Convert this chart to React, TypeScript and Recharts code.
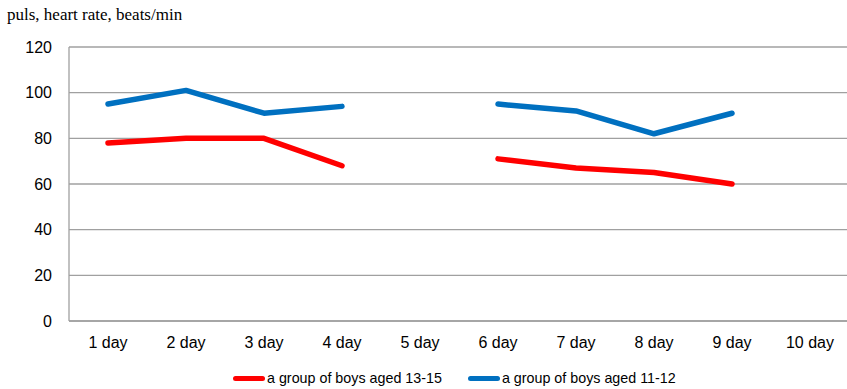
import { LineChart, Line, XAxis, YAxis, CartesianGrid } from "recharts";

const days = ["1 day", "2 day", "3 day", "4 day", "5 day", "6 day", "7 day", "8 day", "9 day", "10 day"];
const boys1315 = [78, 80, 80, 68, null, 71, 67, 65, 60, null];
const boys1112 = [95, 101, 91, 94, null, 95, 92, 82, 91, null];
const yTicks = [0, 20, 40, 60, 80, 100, 120];

const series = [
  { key: "older", name: "a group of boys aged 13-15", color: "#ff0000", values: boys1315 },
  { key: "younger", name: "a group of boys aged 11-12", color: "#0070c0", values: boys1112 },
];

const data = days.map((day, i) => {
  const row: Record<string, string | number | null> = { day };
  series.forEach((s) => (row[s.key] = s.values[i]));
  return row;
});

const axisFont = { fontSize: 16, fill: "#000", fontFamily: "'Liberation Sans', Arial, sans-serif" };

export default function App() {
  return (
    <div style={{ position: "fixed", left: 0, top: 0, width: 847, height: 389, overflow: "hidden", background: "#fff" }}>
      <div
        style={{
          position: "absolute",
          left: 7,
          top: 5,
          fontFamily: "'Liberation Serif', 'Times New Roman', serif",
          fontSize: 17,
          color: "#000",
          whiteSpace: "nowrap",
        }}
      >
        puls, heart rate, beats/min
      </div>
      <LineChart width={849} height={389} data={data} margin={{ top: 47, right: 0, bottom: 0, left: 0 }}>
        <CartesianGrid vertical={false} stroke="#a0a0a0" strokeWidth={1.3} />
        <XAxis
          dataKey="day"
          height={68}
          padding={{ left: 39, right: 39 }}
          tickLine={false}
          tickSize={0}
          tickMargin={16}
          stroke="#a0a0a0"
          strokeWidth={1.3}
          tick={axisFont}
          interval={0}
        />
        <YAxis
          width={69}
          domain={[0, 120]}
          ticks={yTicks}
          tickLine={false}
          tickSize={0}
          tickMargin={17}
          stroke="#a0a0a0"
          strokeWidth={1.3}
          tick={axisFont}
        />
        {series.map((s) => (
          <Line
            key={s.key}
            type="linear"
            dataKey={s.key}
            name={s.name}
            stroke={s.color}
            strokeWidth={5.5}
            strokeLinecap="round"
            strokeLinejoin="round"
            dot={false}
            activeDot={false}
            isAnimationActive={false}
          />
        ))}
      </LineChart>
      <div
        style={{
          position: "absolute",
          left: 233,
          top: 370,
          display: "flex",
          alignItems: "center",
          fontFamily: "'Liberation Sans', Arial, sans-serif",
          fontSize: 14.3,
          color: "#000",
          whiteSpace: "nowrap",
        }}
      >
        {series.map((s, i) => (
          <div key={s.key} style={{ display: "flex", alignItems: "center", marginLeft: i === 0 ? 0 : 26 }}>
            <span style={{ display: "inline-block", width: 32, height: 5, borderRadius: 3, background: s.color, marginRight: 2 }} />
            <span>{s.name}</span>
          </div>
        ))}
      </div>
    </div>
  );
}
